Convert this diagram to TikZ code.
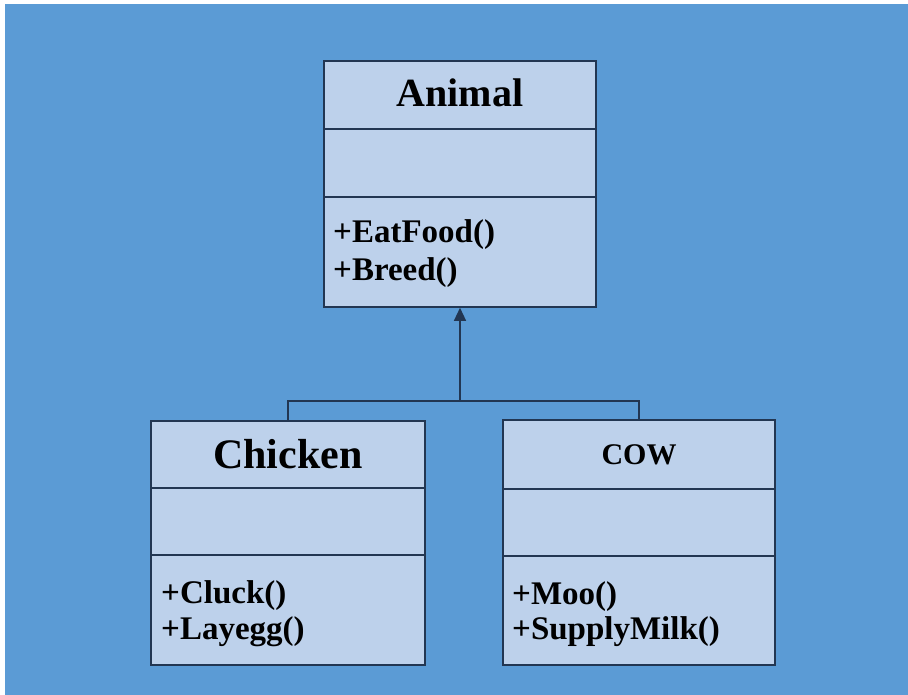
\documentclass[tikz,border=0pt]{standalone}
\usepackage{fontspec}
\setmainfont{Liberation Serif}
\usetikzlibrary{arrows.meta}
\definecolor{bgblue}{HTML}{5B9BD5}
\definecolor{boxfill}{HTML}{BDD1EB}
\definecolor{boxline}{HTML}{223652}
\begin{document}
\begin{tikzpicture}[x=1pt,y=-1pt,
  umlbox/.style={draw=boxline,fill=boxfill,line width=1.6pt,rectangle,inner sep=0pt},
  divider/.style={draw=boxline,line width=1.6pt},
  titletext/.style={anchor=base,inner sep=0pt,font=\bfseries},
  methtext/.style={anchor=base west,inner sep=0pt,font=\bfseries\fontsize{33}{37}\selectfont},
  conn/.style={draw=boxline,line width=1.4pt}]
\useasboundingbox (0,0) rectangle (908,695);
\fill[white] (0,0) rectangle (908,695);
\fill[bgblue] (5,4) rectangle (908,695);
% Animal
\node[umlbox,minimum width=272pt,minimum height=246pt] (animal) at (460,184) {};
\draw[divider] (animal.west |- 0,129) -- (animal.east |- 0,129);
\draw[divider] (animal.west |- 0,197) -- (animal.east |- 0,197);
\node[titletext,font=\bfseries\fontsize{40}{44}\selectfont] (animalt) at (460,107) {Animal};
\node[methtext] (m1) at (333,243) {+EatFood()};
\node[methtext] (m2) at (333,280) {+Breed()};
% Chicken
\node[umlbox,minimum width=274pt,minimum height=244pt] (chicken) at (288,543) {};
\draw[divider] (chicken.west |- 0,488) -- (chicken.east |- 0,488);
\draw[divider] (chicken.west |- 0,555) -- (chicken.east |- 0,555);
\node[titletext,font=\bfseries\fontsize{42}{46}\selectfont] (chickent) at (288,468) {Chicken};
\node[methtext] (m3) at (161,603) {+Cluck()};
\node[methtext] (m4) at (161,639) {+Layegg()};
% Cow
\node[umlbox,minimum width=272pt,minimum height=245pt] (cow) at (639,542.5) {};
\draw[divider] (cow.west |- 0,489) -- (cow.east |- 0,489);
\draw[divider] (cow.west |- 0,556) -- (cow.east |- 0,556);
\node[titletext,font=\bfseries\fontsize{30}{34}\selectfont] (cowt) at (639,464) {COW};
\node[methtext] (m5) at (512,604) {+Moo()};
\node[methtext] (m6) at (512,639) {+SupplyMilk()};
% Connectors
\coordinate (j) at (460,401);
\draw[conn,-{Triangle[width=12pt,length=13pt]}] (j) -- (animal.south);
\draw[conn] (chicken.north) -- (chicken.north |- j) -- (cow.north |- j) -- (cow.north);
\end{tikzpicture}
\end{document}
